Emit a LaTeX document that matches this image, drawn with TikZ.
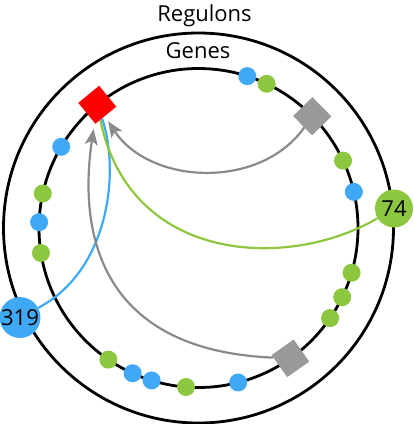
\documentclass[tikz,border=0pt]{standalone}
\usepackage{fontspec}
\setmainfont{Open Sans}
\usepackage{xcolor}
\usepackage{tikz}
\usetikzlibrary{arrows.meta, backgrounds}
\definecolor{tfBlue}{HTML}{3FA9F5}
\definecolor{tfGreen}{HTML}{8DC63F}
\definecolor{geneGray}{HTML}{999999}
\definecolor{linkGray}{HTML}{8A8A8A}
\definecolor{hubRed}{HTML}{FF0000}

\begin{document}
\begin{tikzpicture}[x=1pt, y=1pt,
    ring/.style={line width=2.8pt},
    geneDot/.style={circle, inner sep=0pt, minimum size=18pt},
    geneBox/.style={rectangle, inner sep=0pt, minimum size=27pt},
    regulon/.style={circle, inner sep=0pt, minimum size=38pt, font=\fontsize{22}{24}\selectfont},
    link/.style={line width=2.2pt},
    regArrow/.style={link, linkGray, -{Stealth[length=16pt, width=13pt, inset=4pt]}, shorten >=6pt}]
    \useasboundingbox (-198.5, -196) rectangle (215.5, 228);

    \begin{scope}[on background layer]
        \draw[ring] (0, 0) circle (195pt);
        \draw[ring] (0, 0) circle (159.5pt);
    \end{scope}

    \node[font=\fontsize{22}{24}\selectfont, anchor=base] (regLabel) at (6, 207) {Regulons};
    \node[font=\fontsize{22}{24}\selectfont, anchor=base] (geneLabel) at (-0.5, 170) {Genes};

    \foreach \a/\c [count=\i] in {72.2/tfBlue, 64.7/tfGreen, 25/tfGreen, 13.1/tfBlue,
        -16.3/tfGreen, -25.7/tfGreen, -34.4/tfGreen, -75.6/tfBlue, -94.5/tfGreen,
        -107.1/tfBlue, -114.4/tfBlue, -124.4/tfGreen, 189/tfGreen, 177.9/tfBlue,
        167.5/tfGreen, 149.4/tfBlue}
        \node[geneDot, fill=\c] (dot\i) at (\a:159.5) {};

    \node[geneBox, fill=hubRed, rotate=129.4] (hubGene) at (129.4:159.5) {};
    \node[geneBox, fill=geneGray, rotate=44.5] (grayGeneA) at (44.5:159.5) {};
    \node[geneBox, fill=geneGray, rotate=-54.8] (grayGeneB) at (-54.8:159.5) {};

    \node[regulon, fill=tfGreen] (reg74) at (195.5, 19.5) {74};
    \node[regulon, fill=tfBlue] (reg319) at (-178.5, -89.5) {319};

    \begin{scope}[on background layer]
        \draw[link, tfBlue] (reg319) .. controls (-88.5, -42) and (-78.5, 58) .. (hubGene);
        \draw[link, tfGreen] (reg74) .. controls (91.5, -42) and (-68.5, -37) .. (hubGene);
        \draw[regArrow] (grayGeneA) .. controls (61.5, 38) and (-48.5, 43) .. (hubGene);
        \draw[regArrow] (grayGeneB) .. controls (-108.5, -122) and (-118.5, 8) .. (hubGene);
    \end{scope}
\end{tikzpicture}
\end{document}
